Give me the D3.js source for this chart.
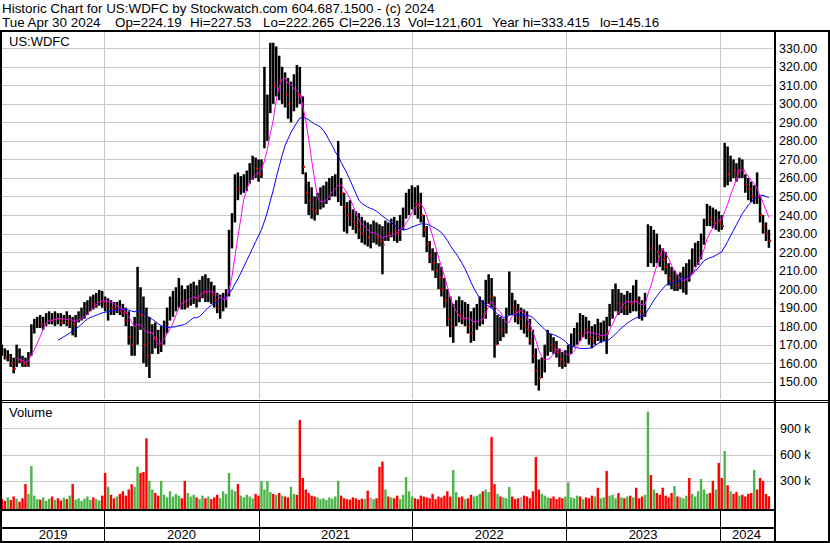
<!DOCTYPE html>
<html><head><meta charset="utf-8">
<script src="https://cdn.jsdelivr.net/npm/d3@7/dist/d3.min.js"></script>
<style>
body{margin:0;background:#fff}
svg{display:block}
text{font-family:"Liberation Sans",Arial,sans-serif;fill:#000}
</style>
</head><body>
<svg id="c" width="830" height="543"></svg>
<script>
// ---- data (weekly) ----
const firstWeek = new Date(2019, 4, 3);
const high = [170,168,167,165,163,170,168,164,163,166,
181,184,185,186,185,187,188,187,188,187,
187,186,188,186,185,186,188,190,193,194,
196,197,198,199.5,199,196,195,194,193,193,
194,192,190,188,180,185,212,201,196,190,
185,181,182,178,180,183,190,196,199,201,
206,202,200,202,203,204,202,205,207,208,
206,204,202,198,197,198,200,232,241,262,
263,261,262,264,268,272,271,270,270,320,
305,333,333,331,326,320,317,314,312,316,
321,320,304,263,258,255,250,252,255,256,
258,260,261,262,280,260,252,247,248,243,
242,241,239,237,236,235,237,236,235,234,
237,236,238,239,237,240,244,252,254,256,
255,256,252,240,234,226,222,220,214,212,
206,200,196,192,194,196,194,193,192,188,
190,192,196,194,205,208,206,196,186,185,
184,190,209.5,198,194,192,190,189,188,184,
178,168,162,163,170,178,176,174,172,168,
166,167,170,176,179,182,187,186,185,183,
180,181,184,182,183,185,192,200,203,200,
198,197,199,198,202,205,196,194,198,235,
234,232,230,224,222,220,214,212,210,208,
209,212,214,216,222,225,226,230,238,246,
245,244,243,242,240,279,277,272,270,268,
271,270,262,260,258,256,263,250,240,236,
232];
const low = [164,162,161,158,154.5,158,160,158,158,158,
164,176,179,179,178,180,181,181,180,181,
180,181,180,179,175,174,182,183,184,186,
188,189,190,191,190,188,183,186,186,187,
186,185,180,170,164,164,170,178,160,158,
152,165,168,165,166,170,176,183,185,188,
190,189,189,190,191,192,190,193,195,193,
193,192,190,187,184,188,190,196,222,236,
248,251,252,253,257,259,260,258,260,276,
280,295,300,304,302,300,298,292,290,296,
298,300,262,246,240,238,237,240,243,244,
246,248,250,250,247,245,231,230,234,232,
230,227,225,224,223,222,225,224,223,208,
226,226,228,226,225,226,232,238,240,243,
240,238,236,228,220,214,210,206,200,196,
190,180,174,171,180,182,181,180,176,171,
172,178,180,181,184,192,190,163,170,172,
174,176,186,186,182,181,178,176,174,170,
160,148,145.2,152,155,164,166,165,163,158,
157,158,160,165,169,170,172,174,173,170,
168,170,172,171,172,165,180,184,188,186,
187,186,186,187,188,188,184,183,185,212,
214,212,214,212,210,208,202,200,199,199,
200,198,197,204,208,212,213,216,224,234,
234,233,232,231,232,255,256,258,260,258,
260,260,252,248,247,246,246,236,230,226,
222.3];
const close = [166,163,165,160,157,166,161,160,159,164,
178,181,183,181,183,184,185,183,186,184,
182,184,182,184,181,183,186,188,189,191,
194,192,195,197,193,191,192,190,189,190,
188,187,183,174,170,176,195,186,170,164,
168,176,173,170,174,178,186,190,192,195,
198,193,191,194,198,200,195,199,202,198,
200,197,194,190,192,195,197,230,236,256,
254,256,258,262,263,267,265,262,268,290,
300,318,310,325,312,314,305,300,306,312,
305,304,266,252,248,243,242,248,250,252,
254,255,256,258,261,252,244,240,238,236,
234,232,230,232,228,228,232,228,226,224,
232,230,234,232,230,234,238,246,248,252,
246,244,240,232,224,218,214,210,206,200,
194,184,180,182,188,186,184,186,180,176,
182,186,190,186,200,202,196,170,180,178,
180,186,198,190,188,184,184,180,178,172,
164,156,152,160,166,174,170,168,166,162,
160,164,166,172,175,178,176,180,178,174,
172,176,174,176,178,176,188,194,196,192,
194,190,194,192,196,194,188,186,194,226,
222,228,220,218,216,212,206,204,205,202,
204,206,210,208,218,220,222,226,234,242,
238,236,238,236,234,268,262,266,264,262,
266,264,256,254,250,252,250,240,234,230,
226.13];
const volumeK = [90,70,110,80,120,95,60,100,263,150,
469,130,90,85,110,70,95,120,80,100,
75,105,90,130,263,85,100,70,95,120,
80,110,90,75,130,389,232,140,100,120,
150,180,130,200,260,230,461,389,400,786,
300,200,160,130,298,140,110,180,120,150,
130,100,298,160,120,140,110,90,130,100,
120,90,110,140,100,180,150,389,200,180,
263,130,110,140,120,100,150,130,298,200,
298,170,150,140,160,130,120,110,232,150,
140,996,332,200,160,130,120,110,90,100,
80,110,95,120,301,130,100,90,85,110,
100,80,95,90,187,110,90,100,461,519,
200,120,110,100,130,90,140,343,180,120,
100,90,130,120,110,100,150,90,120,110,
130,180,120,424,170,110,120,90,100,140,
120,130,150,180,200,170,801,260,150,120,
110,100,230,120,90,100,110,130,120,100,
180,572,200,150,130,110,100,120,90,110,
100,120,282,110,100,130,120,90,110,100,
130,120,220,100,110,412,130,140,100,160,
110,100,120,130,110,220,100,120,140,1090,
366,200,160,140,220,130,110,160,240,120,
110,100,130,332,150,120,180,320,200,150,
160,298,200,504,332,641,250,180,150,172,
130,140,120,150,160,424,200,332,298,150,
122];
const priceTicks = [150,160,170,180,190,200,210,220,230,240,250,260,270,280,290,300,310,320,330];
const volumeTicks = [300000,600000,900000];
const volumeTickLabels = ["300 k","600 k","900 k"];
const years = [2019,2020,2021,2022,2023,2024];
const shortWindow = 6, longWindow = 20;
const headerLine1 = "Historic Chart for US:WDFC by Stockwatch.com 604.687.1500 - (c) 2024";
const headerParts = [["Tue Apr 30 2024",2],["Op=224.19",115],["Hi=227.53",190],["Lo=222.265",263],["Cl=226.13",339],["Vol=121,601",408],["Year hi=333.415",492],["lo=145.16",600]];

// ---- layout ----
const L = 2, R = 773, PT = 32, PB = 399, VT = 403, VB = 508;
const svg = d3.select("#c");
const dates = high.map((_, i) => d3.timeDay.offset(firstWeek, 7 * i));
const x = d3.scaleTime().domain([new Date(2019,3,30), new Date(2024,3,30)]).range([0.6, 770.6]);
const y = d3.scaleLinear().domain([150, 330]).range([381.7, 48.3]);
const yv = d3.scaleLinear().domain([0, 900000]).range([507, 428.3]);
const yearStarts = years.slice(1).map(yr => new Date(yr, 0, 1));

function styleGrid(g, color) {
  g.select(".domain").remove();
  g.selectAll(".tick line").attr("stroke", color).attr("stroke-width", 1).attr("shape-rendering","crispEdges");
  g.selectAll(".tick text").remove();
}
svg.append("g").attr("transform", `translate(${L},0)`)
  .call(d3.axisRight(y).tickValues(priceTicks).tickSize(R - L).tickFormat(""))
  .call(g => styleGrid(g, "#c8c8c8"));
svg.append("g").attr("transform", `translate(${L},0)`)
  .call(d3.axisRight(yv).tickValues(volumeTicks).tickSize(R - L).tickFormat(""))
  .call(g => styleGrid(g, "#c8c8c8"));
svg.append("g").attr("transform", `translate(0,${PT})`)
  .call(d3.axisBottom(x).tickValues(yearStarts).tickSize(PB - PT).tickFormat(""))
  .call(g => styleGrid(g, "#c8c8c8"));
svg.append("g").attr("transform", `translate(0,${VT})`)
  .call(d3.axisBottom(x).tickValues(yearStarts).tickSize(VB - VT + 1).tickFormat(""))
  .call(g => styleGrid(g, "#c8c8c8"));
svg.append("g").attr("transform", `translate(0,510)`)
  .call(d3.axisBottom(x).tickValues(yearStarts).tickSize(31).tickFormat(""))
  .call(g => styleGrid(g, "#000"));

// volume bars
const col = i => {
  const prev = i === 0 ? close[0] + 1 : close[i - 1];
  return close[i] > prev ? "#4cb54a" : close[i] < prev ? "#ff0000" : "#a8a8a8";
};
svg.append("g").selectAll("rect").data(volumeK).join("rect")
  .attr("x", (v, i) => x(dates[i]) - 1.2).attr("width", 2.4)
  .attr("y", v => yv(v * 1000)).attr("height", v => 509 - yv(v * 1000))
  .attr("fill", (v, i) => col(i));

// price bars
svg.append("g").selectAll("rect").data(high).join("rect")
  .attr("x", (h, i) => x(dates[i]) - 1.25).attr("width", 2.5)
  .attr("y", (h, i) => y(h)).attr("height", (h, i) => Math.max(1, y(low[i]) - y(h)))
  .attr("fill", "#000");
// red close marks on down weeks
const downIdx = close.map((c, i) => i).filter(i => i > 0 && close[i] < close[i - 1]);
svg.append("g").selectAll("rect").data(downIdx).join("rect")
  .attr("x", i => x(dates[i]) + 0.3).attr("width", 2)
  .attr("y", i => y(close[i]) - 1).attr("height", 2)
  .attr("fill", "#ff0000");

// moving averages
function ma(w) {
  return close.map((c, i) => i < w - 1 ? null : d3.mean(close.slice(i - w + 1, i + 1)));
}
const line = d3.line().defined(d => d[1] != null).x(d => x(d[0])).y(d => y(d[1]));
svg.append("path").datum(ma(longWindow).map((v, i) => [dates[i], v]))
  .attr("d", line).attr("fill", "none").attr("stroke", "#0000ff").attr("stroke-width", 1);
svg.append("path").datum(ma(shortWindow).map((v, i) => [dates[i], v]))
  .attr("d", line).attr("fill", "none").attr("stroke", "#ff00ff").attr("stroke-width", 1);

svg.append("rect").attr("x", 775).attr("y", 32).attr("width", 53).attr("height", 509).attr("fill", "#fff");

svg.append("g").attr("transform", "translate(775,0)")
  .call(d3.axisRight(y).tickValues(priceTicks).tickSize(0).tickPadding(4).tickFormat(d3.format(".2f")))
  .call(g => { g.select(".domain").remove(); g.selectAll("text").attr("font-size", 12.5).attr("font-family", null).attr("fill","#000"); });
svg.append("g").attr("transform", "translate(775,0)")
  .call(d3.axisRight(yv).tickValues(volumeTicks).tickSize(0).tickPadding(5).tickFormat((d, i) => volumeTickLabels[i]))
  .call(g => { g.select(".domain").remove(); g.selectAll("text").attr("font-size", 12.5).attr("font-family", null).attr("fill","#000"); });

const frame = svg.append("g").attr("stroke", "#000").attr("shape-rendering", "crispEdges");
frame.append("line").attr("x1", 0).attr("x2", 830).attr("y1", 31).attr("y2", 31).attr("stroke-width", 2);
frame.append("line").attr("x1", 0.5).attr("x2", 0.5).attr("y1", 30).attr("y2", 542).attr("stroke-width", 2);
frame.append("line").attr("x1", 829).attr("x2", 829).attr("y1", 30).attr("y2", 542).attr("stroke-width", 2);
frame.append("line").attr("x1", 0).attr("x2", 830).attr("y1", 541.5).attr("y2", 541.5).attr("stroke-width", 2);
frame.append("line").attr("x1", 774.5).attr("x2", 774.5).attr("y1", 30).attr("y2", 542).attr("stroke-width", 2);
frame.append("line").attr("x1", 0).attr("x2", 830).attr("y1", 400.5).attr("y2", 400.5).attr("stroke-width", 1);
frame.append("line").attr("x1", 0).attr("x2", 830).attr("y1", 402.5).attr("y2", 402.5).attr("stroke-width", 1);
frame.append("line").attr("x1", 0).attr("x2", 774).attr("y1", 509.5).attr("y2", 509.5).attr("stroke-width", 2);
frame.append("line").attr("x1", 0).attr("x2", 774).attr("y1", 527.5).attr("y2", 527.5).attr("stroke-width", 2);

svg.append("g").selectAll("text").data(years).join("text")
  .attr("x", yr => {
    const a = Math.max(L, x(new Date(yr, 0, 1)));
    const b = Math.min(R, x(new Date(yr + 1, 0, 1)));
    return (a + b) / 2;
  })
  .attr("y", 539).attr("text-anchor", "middle").attr("font-size", 13).text(d => d);

svg.append("text").attr("x", 9).attr("y", 46).attr("font-size", 13).text("US:WDFC");
svg.append("text").attr("x", 9).attr("y", 417).attr("font-size", 13).text("Volume");

svg.append("text").attr("x", 2).attr("y", 13).attr("font-size", 13.4).text(headerLine1);
svg.append("g").selectAll("text").data(headerParts).join("text")
  .attr("x", d => d[1]).attr("y", 27).attr("font-size", 13.4).text(d => d[0]);
</script>
</body></html>
